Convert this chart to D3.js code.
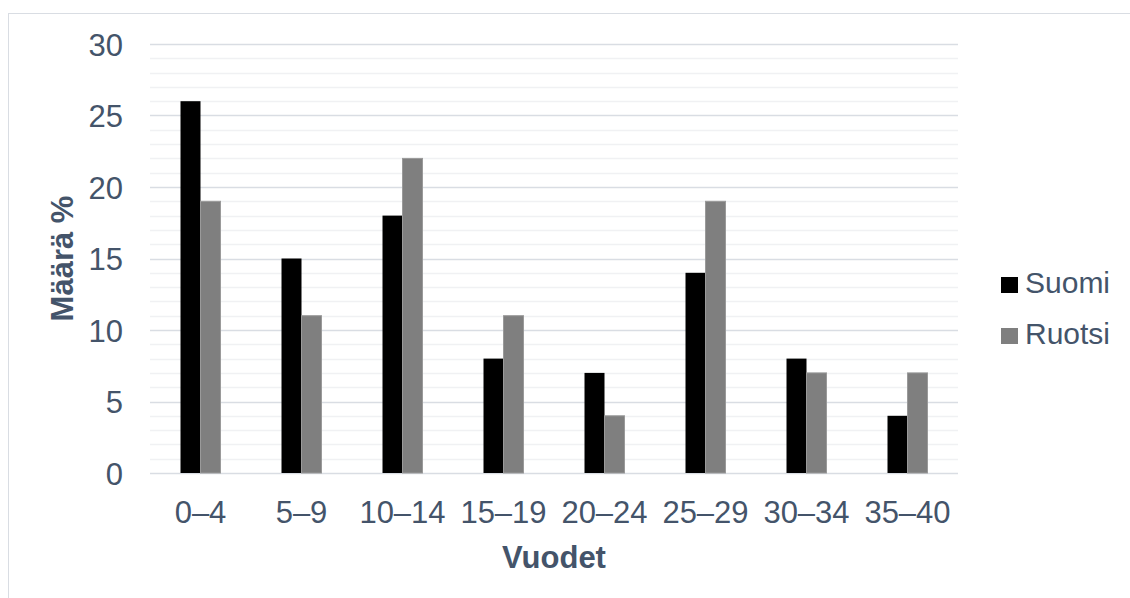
<!DOCTYPE html>
<html>
<head>
<meta charset="utf-8">
<script src="https://cdn.jsdelivr.net/npm/d3@7"></script>
<style>
  html, body { margin: 0; padding: 0; background: #fff; }
  svg { display: block; font-family: "Liberation Sans", Arial, sans-serif; }
</style>
</head>
<body>
<svg id="chart" width="1130" height="598"></svg>
<script>
// Age groups and shares (%) by country
const categories = ["0–4", "5–9", "10–14", "15–19", "20–24", "25–29", "30–34", "35–40"];
const suomi  = [26, 15, 18, 8, 7, 14, 8, 4];
const ruotsi = [19, 11, 22, 11, 4, 19, 7, 7];
const seriesNames = ["Suomi", "Ruotsi"];
const yTicks = [0, 5, 10, 15, 20, 25, 30];

const seriesValues = [suomi, ruotsi];
const colors = ["#000000", "#7f7f7f"];
const textColor = "#44546a";
const fontFamily = "Liberation Sans, Arial, sans-serif";

const svg = d3.select("#chart");
const W = 1130, H = 598;
const plot = { left: 150, right: 958, top: 44, bottom: 473 };

// outer chart frame
svg.append("rect")
  .attr("x", 8.5).attr("y", 13.5)
  .attr("width", W + 20).attr("height", H + 20)
  .attr("fill", "#fff").attr("stroke", "#d9dde3").attr("stroke-width", 1);

const x = d3.scaleBand().domain(categories).range([plot.left, plot.right]).paddingInner(0).paddingOuter(0);
const y = d3.scaleLinear().domain([0, 30]).range([plot.bottom, plot.top]);
const barW = x.bandwidth() * 0.198;
const xs = d3.scaleBand().domain(seriesNames).range([0, barW * 2]);

// minor gridlines (every 1 %)
svg.append("g").selectAll("line")
  .data(d3.range(1, 30).filter(v => v % 5 !== 0))
  .join("line")
  .attr("x1", plot.left).attr("x2", plot.right)
  .attr("y1", d => Math.round(y(d)) + 0.5).attr("y2", d => Math.round(y(d)) + 0.5)
  .attr("stroke", "#f0f1f3").attr("stroke-width", 1.5);

// major gridlines
svg.append("g").selectAll("line")
  .data(yTicks)
  .join("line")
  .attr("x1", plot.left).attr("x2", plot.right)
  .attr("y1", d => Math.round(y(d)) + 0.5).attr("y2", d => Math.round(y(d)) + 0.5)
  .attr("stroke", "#d9dde3").attr("stroke-width", 1.5);

// bars
seriesNames.forEach((name, si) => {
  svg.append("g").selectAll("rect")
    .data(categories.map((c, i) => ({ c, v: seriesValues[si][i] })))
    .join("rect")
    .attr("x", d => x(d.c) + x.bandwidth() / 2 - barW + xs(name))
    .attr("y", d => y(d.v))
    .attr("width", xs.bandwidth())
    .attr("height", d => y(0) - y(d.v))
    .attr("fill", colors[si])
    .attr("stroke", si === 1 ? "#9a9a9a" : "none")
    .attr("stroke-width", si === 1 ? 1 : 0);
});

// y axis tick labels
const yAxis = d3.axisLeft(y).tickValues(yTicks).tickSize(0).tickPadding(0);
const yg = svg.append("g").attr("transform", `translate(${plot.left - 27},0)`).call(yAxis);
yg.select(".domain").remove();
yg.attr("font-size", null).attr("font-family", null);
yg.selectAll("text").attr("fill", textColor).attr("font-size", 31)
  .attr("font-family", fontFamily).attr("dy", "0.36em");

// x axis tick labels
const xAxis = d3.axisBottom(x).tickSize(0).tickPadding(0);
const xg = svg.append("g").attr("transform", `translate(0,${plot.bottom})`).call(xAxis);
xg.select(".domain").remove();
xg.attr("font-size", null).attr("font-family", null);
xg.selectAll("text").attr("fill", textColor).attr("font-size", 31)
  .attr("font-family", fontFamily).attr("y", 50).attr("dy", null);

// axis titles
svg.append("text")
  .attr("x", (plot.left + plot.right) / 2).attr("y", 568)
  .attr("text-anchor", "middle").attr("fill", textColor)
  .attr("font-size", 31).attr("font-weight", "bold")
  .text("Vuodet");

svg.append("text")
  .attr("transform", `translate(73,${(plot.top + plot.bottom) / 2}) rotate(-90)`)
  .attr("text-anchor", "middle").attr("fill", textColor)
  .attr("font-size", 31).attr("font-weight", "bold")
  .text("Määrä %");

// legend
const legend = svg.append("g").attr("transform", "translate(1001,277)");
seriesNames.forEach((name, i) => {
  const g = legend.append("g").attr("transform", `translate(0,${i * 51})`);
  g.append("rect").attr("width", 17).attr("height", 16).attr("fill", colors[i]);
  g.append("text").attr("x", 24).attr("y", 16)
    .attr("fill", textColor).attr("font-size", 30).text(name);
});
</script>
</body>
</html>
